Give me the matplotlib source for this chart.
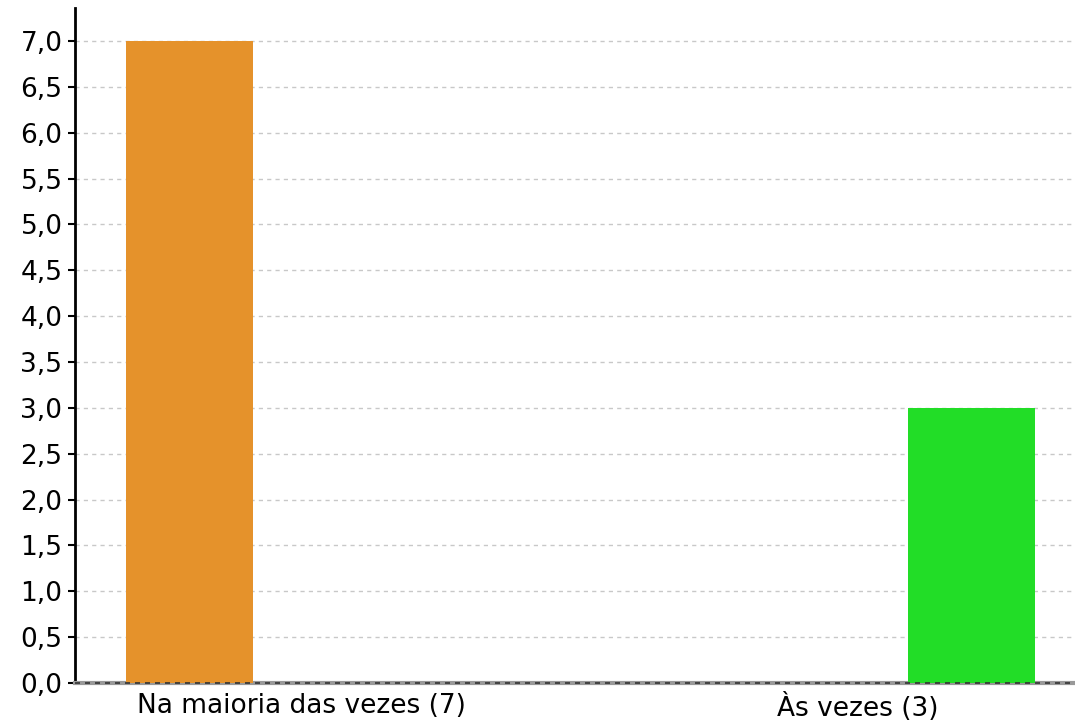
import matplotlib
matplotlib.use('Agg')
import matplotlib.pyplot as plt
from matplotlib.ticker import FuncFormatter, MultipleLocator
import numpy as np

# data
categories = ['Na maioria das vezes (7)', 'Às vezes (3)']
values = [7, 3]
colors = ['#E5922B', '#22DD27']
offsets = [-0.202, 0.204]

plt.rcParams['font.family'] = 'DejaVu Sans'
fig = plt.figure(figsize=(10.75, 7.22), dpi=100)
ax = fig.add_axes([75/1075, 1-683/722, 1-75/1075, (683-8)/722])

x = np.arange(len(categories))
for i in range(len(categories)):
    ax.bar(x[i]+offsets[i], values[i], width=0.228, color=colors[i], zorder=3)

ax.set_xlim(-0.408, 1.39)
ax.set_ylim(0, 7.36)
ax.yaxis.set_major_locator(MultipleLocator(0.5))
ax.yaxis.set_major_formatter(FuncFormatter(lambda v, p: ('%.1f' % v).replace('.', ',')))
ax.set_xticks(x)
ax.set_xticklabels(categories)
ax.tick_params(axis='x', length=0, labelsize=19, pad=7.5)
ax.tick_params(axis='y', length=5, width=1.5, labelsize=19, pad=4)

ax.grid(axis='y', color='#c8c8c8', linestyle=(0, (3, 3)), linewidth=1, zorder=0)
for s in ['top', 'right']:
    ax.spines[s].set_visible(False)
ax.spines['left'].set_linewidth(2)
ax.spines['bottom'].set_color('#999999')
ax.spines['bottom'].set_linewidth(3)
ax.axhline(0, color='#333333', linestyle=(0, (3, 3)), linewidth=1.2, zorder=4, clip_on=False)

fig.savefig('out.png', dpi=100)
